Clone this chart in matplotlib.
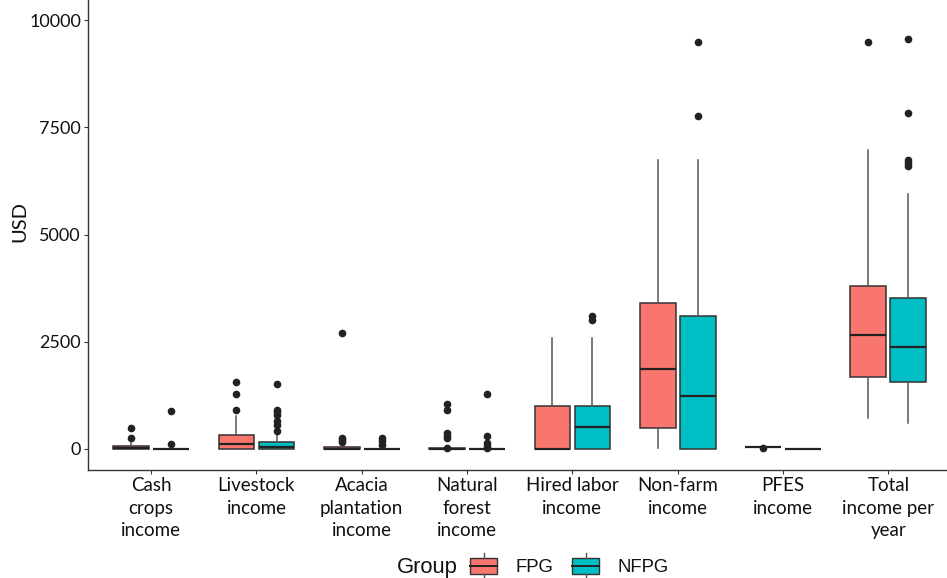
import matplotlib.pyplot as plt
from matplotlib.patches import Patch, Rectangle
from matplotlib.lines import Line2D
from matplotlib.legend_handler import HandlerBase

plt.rcParams['font.family'] = ['Lato', 'DejaVu Sans']

# --- data ---
categories = ['Cash\ncrops\nincome', 'Livestock\nincome', 'Acacia\nplantation\nincome',
              'Natural\nforest\nincome', 'Hired labor\nincome', 'Non-farm\nincome',
              'PFES\nincome', 'Total\nincome per\nyear']
groups = ['FPG', 'NFPG']
colors = {'FPG': '#F8766D', 'NFPG': '#00BFC4'}

# box stats per group: whislo, q1, median, q3, whishi
fpg_whislo = [0, 0, 0, 0, 0, 15, 55, 715]
fpg_q1 = [0, 0, 0, 0, 0, 480, 55, 1690]
fpg_med = [30, 120, 10, 5, 0, 1865, 55, 2660]
fpg_q3 = [60, 330, 40, 20, 1010, 3410, 55, 3810]
fpg_whishi = [150, 780, 100, 40, 2585, 6740, 55, 6980]
fpg_fliers = [[260, 490], [900, 1280, 1560], [160, 200, 250, 2700],
              [20, 250, 300, 370, 910, 1050], [], [], [30], [9500]]

nfpg_whislo = [0, 0, 0, 0, 0, 0, 5, 615]
nfpg_q1 = [0, 0, 0, 0, 0, 0, 5, 1570]
nfpg_med = [0, 50, 0, 0, 520, 1235, 5, 2370]
nfpg_q3 = [0, 160, 10, 10, 1010, 3110, 5, 3530]
nfpg_whishi = [0, 400, 20, 15, 2585, 6740, 5, 5940]
nfpg_fliers = [[110, 880], [420, 560, 650, 800, 860, 910, 1510], [100, 180, 250],
               [20, 70, 140, 300, 1280], [3010, 3100], [7775, 9500], [],
               [6610, 6660, 6740, 7840, 9560]]

yticks = [0, 2500, 5000, 7500, 10000]


def make_stats(lo, q1, med, q3, hi, fl):
    return [dict(whislo=a, q1=b, med=c, q3=d, whishi=e, fliers=f)
            for a, b, c, d, e, f in zip(lo, q1, med, q3, hi, fl)]


stats = {
    'FPG': make_stats(fpg_whislo, fpg_q1, fpg_med, fpg_q3, fpg_whishi, fpg_fliers),
    'NFPG': make_stats(nfpg_whislo, nfpg_q1, nfpg_med, nfpg_q3, nfpg_whishi, nfpg_fliers),
}

fig = plt.figure(figsize=(9.47, 5.78), dpi=100)
ax = fig.add_axes([88 / 947, 1 - 470 / 578, 859 / 947, 470 / 578])

edge = '#333333'
offsets = {'FPG': -0.19, 'NFPG': 0.19}
for g in groups:
    pos = [i + 1 + offsets[g] for i in range(len(categories))]
    ax.bxp(stats[g], positions=pos, widths=0.34, patch_artist=True,
           showcaps=False,
           boxprops=dict(facecolor=colors[g], edgecolor=edge, linewidth=1.1),
           whiskerprops=dict(color='#555555', linewidth=1.1),
           medianprops=dict(color='#222222', linewidth=1.6),
           flierprops=dict(marker='o', markerfacecolor='#222222',
                           markeredgecolor='#222222', markersize=4.5))

ax.set_xlim(0.40, 8.557)
ax.set_ylim(-490, 10471)
ax.set_xticks(range(1, len(categories) + 1))
ax.set_xticklabels(categories, fontsize=13.5, linespacing=1.4, color='#111111')
ax.set_yticks(yticks)
ax.set_yticklabels([str(v) for v in yticks], fontsize=13, color='#111111')
ax.tick_params(axis='both', length=3, color='#333333', pad=2)
ax.set_ylabel('USD', fontsize=14.5, color='#111111')
ax.yaxis.set_label_coords(-0.069, 0.528)

for s in ['top', 'right']:
    ax.spines[s].set_visible(False)
for s in ['left', 'bottom']:
    ax.spines[s].set_color('#333333')
    ax.spines[s].set_linewidth(1.0)


class BoxHandler(HandlerBase):
    def create_artists(self, legend, orig_handle, xdescent, ydescent,
                       width, height, fontsize, trans):
        fc = orig_handle.get_facecolor()
        x0, y0 = -xdescent, -ydescent
        cx = x0 + width / 2
        rect = Rectangle((x0, y0), width, height,
                         facecolor=fc, edgecolor=edge, lw=1.0, transform=trans)
        med = Line2D([x0, x0 + width], [y0 + height / 2] * 2,
                     color='#222222', lw=1.4, transform=trans)
        w1 = Line2D([cx, cx], [y0 + height, y0 + height * 1.3],
                    color='#555555', lw=1.0, transform=trans)
        w2 = Line2D([cx, cx], [y0 - height * 0.3, y0],
                    color='#555555', lw=1.0, transform=trans)
        return [rect, med, w1, w2]


handles = [Patch(facecolor=colors[g], label=g) for g in groups]
leg = fig.legend(handles=handles, loc='center', bbox_to_anchor=(0.6014, 0.019),
                 ncol=2, frameon=False, handlelength=1.46, handleheight=1.0,
                 handletextpad=1.0, columnspacing=1.0,
                 prop={'family': 'Liberation Sans', 'size': 13.3},
                 handler_map={Patch: BoxHandler()})
for t in leg.get_texts():
    t.set_color('#111111')
fig.text(458 / 947, 0.019, 'Group', ha='right', va='center', fontsize=15.8,
         family='Liberation Sans', color='#111111')

fig.savefig('out.png', dpi=100)
